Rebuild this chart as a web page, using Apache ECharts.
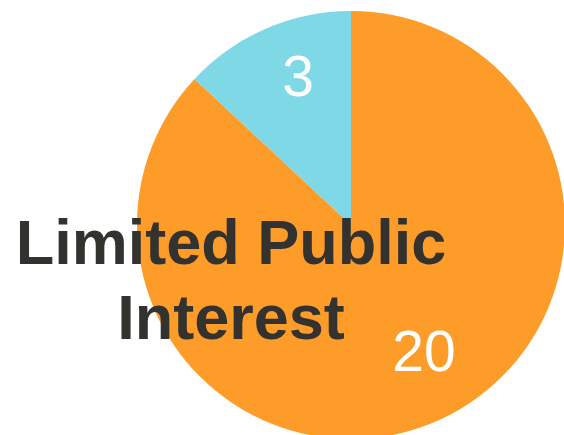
<!DOCTYPE html>
<html lang="en">
<head>
    <meta charset="UTF-8">
    <title>Limited Public Interest</title>
    <script src="https://cdn.jsdelivr.net/npm/echarts@6/dist/echarts.min.js"></script>
    <style>
        html, body { margin: 0; padding: 0; background: #fff; }
        #main { width: 564px; height: 435px; }
    </style>
</head>
<body>
    <div id="main"></div>
    <script>
        // chart data
        var chartTitle = 'Limited Public\nInterest';
        var sliceNames = ['Other', 'Limited Public Interest'];
        var sliceValues = [20, 3];
        var sliceColors = ['#fd9c29', '#7fd8e6'];

        var chart = echarts.init(document.getElementById('main'));

        var pieData = sliceNames.map(function (name, i) {
            return { name: name, value: sliceValues[i], itemStyle: { color: sliceColors[i] } };
        });
        // transparent copy, only used to put labels at ~70% of the radius
        var labelNudge = [[12, -10], [8, -4]];
        var labelData = sliceNames.map(function (name, i) {
            return { name: name, value: sliceValues[i], label: { offset: labelNudge[i] } };
        });

        chart.setOption({
            animation: false,
            backgroundColor: '#ffffff',
            graphic: [{
                type: 'text',
                x: 231,
                y: 209,
                z: 100,
                silent: true,
                style: {
                    text: chartTitle,
                    textAlign: 'center',
                    textVerticalAlign: 'top',
                    fill: '#33322e',
                    font: 'bold 63px "Liberation Sans", Arial, sans-serif',
                    lineHeight: 75
                }
            }],
            series: [{
                type: 'pie',
                center: [351, 225],
                radius: [0, 214],
                startAngle: 90,
                clockwise: true,
                silent: true,
                label: { show: false },
                labelLine: { show: false },
                itemStyle: { borderWidth: 0 },
                emphasis: { disabled: true },
                data: pieData
            }, {
                type: 'pie',
                center: [351, 225],
                radius: [86, 214],
                startAngle: 90,
                clockwise: true,
                silent: true,
                z: 3,
                itemStyle: { color: 'rgba(0,0,0,0)', borderWidth: 0 },
                label: {
                    show: true,
                    position: 'inside',
                    formatter: '{c}',
                    color: '#ffffff',
                    fontSize: 57,
                    fontFamily: '"Liberation Sans", Arial, sans-serif',
                    textBorderWidth: 0
                },
                labelLine: { show: false },
                emphasis: { disabled: true },
                data: labelData
            }]
        });
    </script>
</body>
</html>
